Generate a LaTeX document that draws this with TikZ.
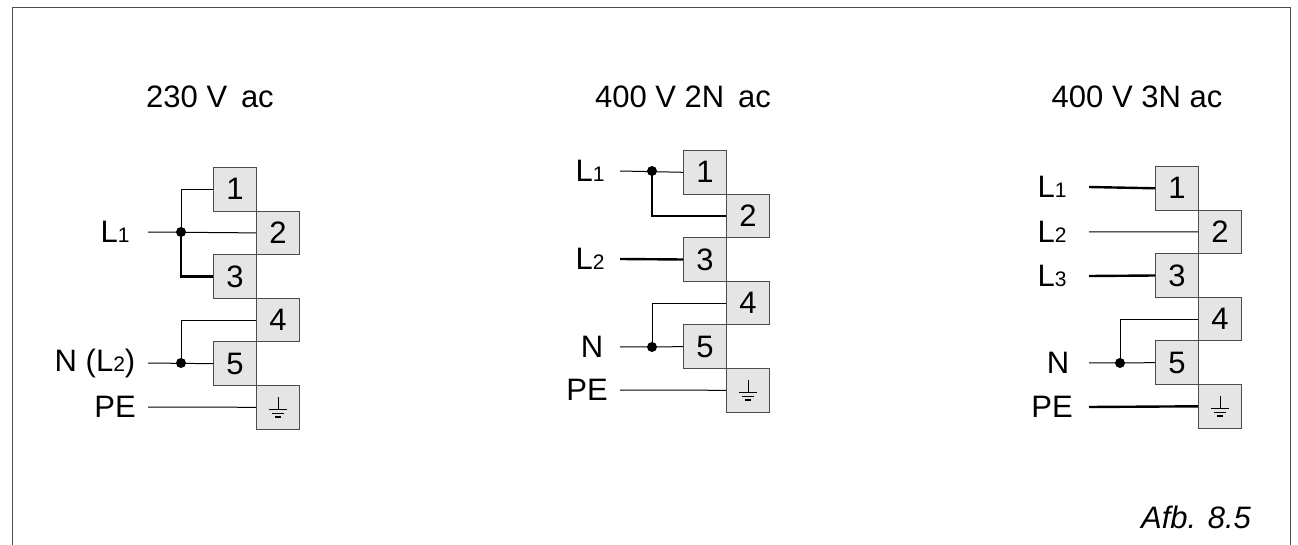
\documentclass[tikz,border=0pt]{standalone}
\usepackage{fontspec}
\setmainfont{Liberation Sans}
\usetikzlibrary{positioning}
\newcommand{\Lsub}[1]{L{\fontsize{21}{21}\selectfont #1}}

\begin{document}
\begin{tikzpicture}[x=1pt,y=-1pt,font=\fontsize{31}{31}\selectfont,
  term/.style={draw=black!70,fill=black!10,line width=1pt,minimum width=43pt,minimum height=43.6pt,anchor=north west,inner sep=0pt},
  lab/.style={anchor=center},
  wire/.style={line width=1pt},
  heavy/.style={line width=2.4pt},
  dot/.style={circle,fill=black,inner sep=0pt,minimum size=10pt}]
\useasboundingbox (0,0) rectangle (1298,545);
\draw[line width=1pt,black!70] (12,545) -- (12,8) -- (1290,8) -- (1290,545);
\node (afb) at (1196,517) {\itshape Afb. 8.5};

% terminal blocks
\foreach \p/\x/\y in {a/213/167,b/683/150,c/1155/166}{
  \foreach \i in {1,...,6}{
    \pgfmathsetmacro{\dx}{mod(\i+1,2)*43}
    \node[term] (\p\i) at (\x+\dx,\y+\i*43.6-43.6) {\ifnum\i<6 \i\fi};
  }
  \draw[line width=1pt] ([shift={(0,-10)}]\p6.center) -- ([shift={(0,2)}]\p6.center)
    ([shift={(-9,2)}]\p6.center) -- ([shift={(9,2)}]\p6.center)
    ([shift={(-6,6)}]\p6.center) -- ([shift={(6,6)}]\p6.center);
  \draw[line width=2pt] ([shift={(-3,10)}]\p6.center) -- ([shift={(3,10)}]\p6.center);
}

% 230 V ac
\node (ta) at (210,97) {230 V\, ac};
\node[lab] (aL) at (115,232) {\Lsub{1}};
\node[lab] (aN) at (95,363) {N (\Lsub{2})};
\node[lab] (aPE) at (115,407) {PE};
\coordinate (aj1) at (181,232);
\coordinate (aj2) at (181,363);
\draw[wire] (148,232) -- (a2.west);
\draw[wire] (a1.west) -| (aj1);
\draw[heavy] (a3.west) -| (aj1);
\draw[wire] (148,363) -- (a5.west);
\draw[wire] (a4.west) -| (aj2);
\draw[wire] (148,407) -- (a6.west);
\node[dot] at (aj1) {};
\node[dot] at (aj2) {};

% 400 V 2N ac
\node (tb) at (683,97) {400 V 2N\, ac};
\node[lab] (bL1) at (590,171) {\Lsub{1}};
\node[lab] (bL2) at (590,259) {\Lsub{2}};
\node[lab] (bN) at (592,347) {N};
\node[lab] (bPE) at (587,390) {PE};
\coordinate (bj1) at (652,171);
\coordinate (bj2) at (652,347);
\draw[wire] (620,171) -- (b1.west);
\draw[heavy] (b2.west) -| (bj1);
\draw[heavy] (620,259) -- (b3.west);
\draw[wire] (620,347) -- (b5.west);
\draw[wire] (b4.west) -| (bj2);
\draw[wire] (620,390) -- (b6.west);
\node[dot] at (bj1) {};
\node[dot] at (bj2) {};

% 400 V 3N ac
\node (tc) at (1137,97) {400 V 3N ac};
\node[lab] (cL1) at (1052,187) {\Lsub{1}};
\node[lab] (cL2) at (1052,232) {\Lsub{2}};
\node[lab] (cL3) at (1052,276) {\Lsub{3}};
\node[lab] (cN) at (1058,363) {N};
\node[lab] (cPE) at (1052,407) {PE};
\coordinate (cj) at (1120,363);
\draw[heavy] (1089,187) -- (c1.west);
\draw[wire] (1089,232) -- (c2.west);
\draw[heavy] (1089,276) -- (c3.west);
\draw[wire] (1089,363) -- (c5.west);
\draw[wire] (c4.west) -| (cj);
\draw[heavy] (1089,407) -- (c6.west);
\node[dot] at (cj) {};
\end{tikzpicture}
\end{document}
